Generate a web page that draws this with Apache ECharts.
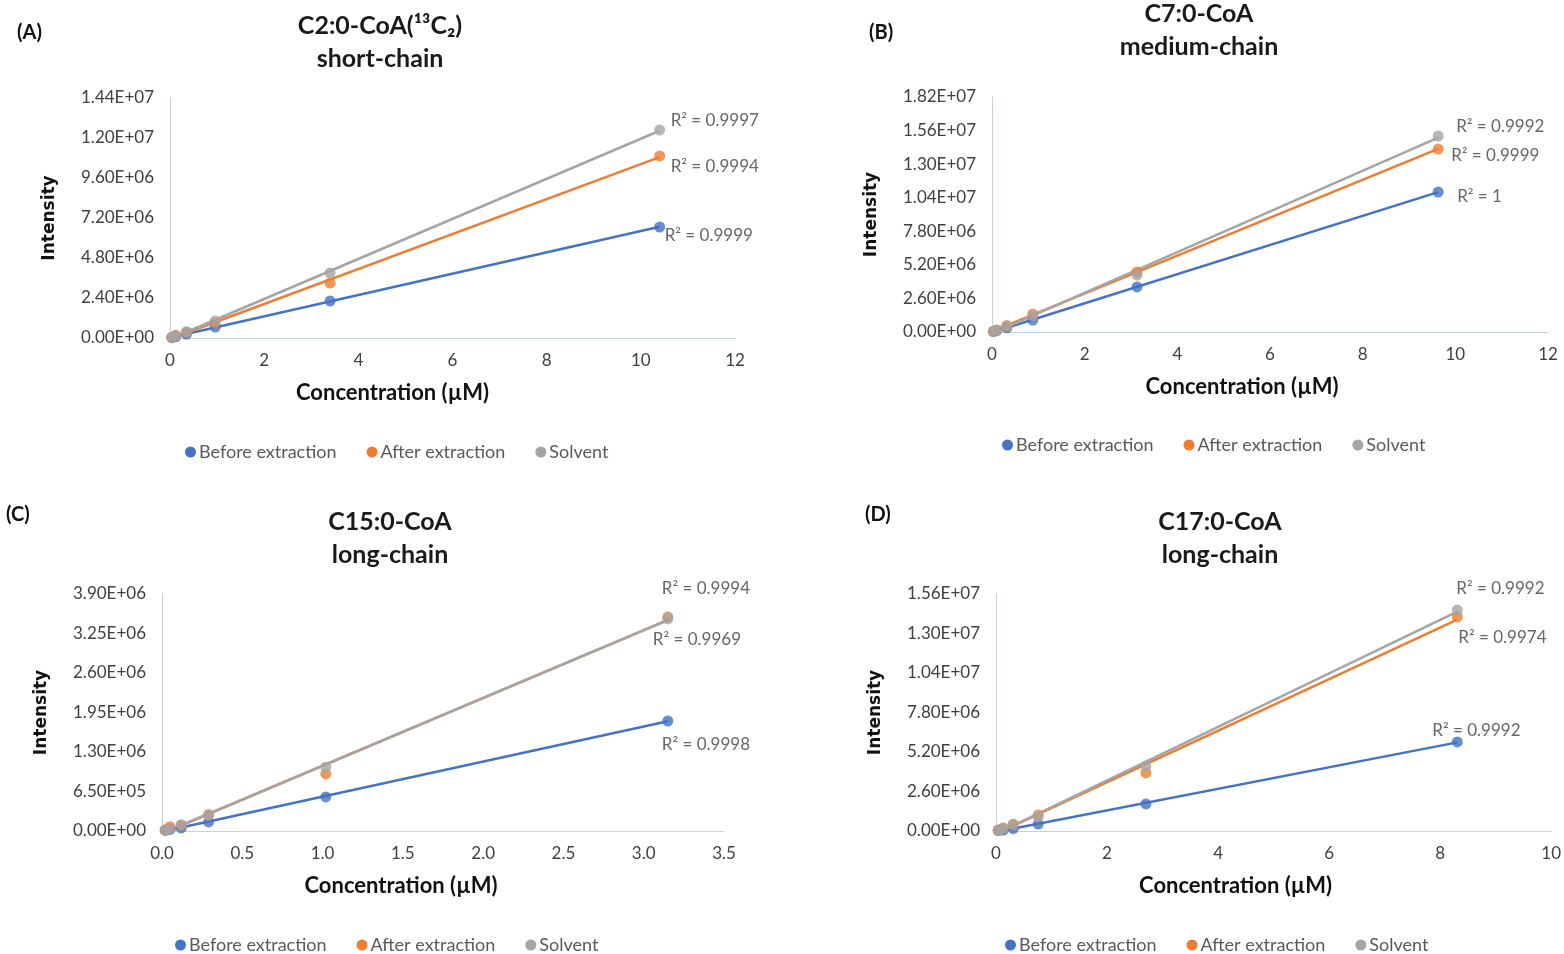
<!DOCTYPE html>
<html>
<head>
<meta charset="utf-8">
<title>Acyl-CoA calibration curves</title>
<script src="https://cdn.jsdelivr.net/npm/echarts@6/dist/echarts.min.js"></script>
<style>
  html, body { margin: 0; padding: 0; background: #fff; }
  #main { width: 1564px; height: 954px; }
</style>
</head>
<body>
<div id="main"></div>
<script>
// concentrations (µM) and intensities
var seriesNames = ['Before extraction', 'After extraction', 'Solvent'];
var colors = ['#4472C4', '#ED7D31', '#A5A5A5'];

var concA = [0.04, 0.12, 0.35, 0.96, 3.4, 10.4];
var beforeA = [2.0e4, 7.0e4, 2.3e5, 6.6e5, 2.22e6, 6.66e6];
var afterA = [4.0e4, 1.6e5, 3.5e5, 9.0e5, 3.30e6, 1.092e7];
var solventA = [5.0e4, 1.4e5, 3.8e5, 1.02e6, 3.90e6, 1.248e7];
var r2A = ['0.9999', '0.9994', '0.9997'];

var concB = [0.03, 0.10, 0.32, 0.88, 3.13, 9.63];
var beforeB = [3.0e4, 1.0e5, 3.2e5, 9.3e5, 3.49e6, 1.084e7];
var afterB = [5.0e4, 1.6e5, 5.0e5, 1.39e6, 4.65e6, 1.417e7];
var solventB = [5.0e4, 1.5e5, 4.6e5, 1.25e6, 4.40e6, 1.518e7];
var r2B = ['1', '0.9999', '0.9992'];

var concC = [0.02, 0.05, 0.12, 0.29, 1.02, 3.15];
var beforeC = [1.0e4, 2.5e4, 5.0e4, 1.5e5, 5.6e5, 1.81e6];
var afterC = [2.0e4, 7.0e4, 1.0e5, 2.7e5, 9.4e5, 3.52e6];
var solventC = [1.5e4, 4.0e4, 1.0e5, 2.6e5, 1.05e6, 3.49e6];
var r2C = ['0.9998', '0.9969', '0.9994'];

var concD = [0.04, 0.13, 0.31, 0.76, 2.70, 8.31];
var beforeD = [3.0e4, 6.0e4, 1.5e5, 4.6e5, 1.78e6, 5.86e6];
var afterD = [6.0e4, 2.0e5, 4.5e5, 1.05e6, 3.82e6, 1.409e7];
var solventD = [5.0e4, 1.8e5, 4.2e5, 9.5e5, 4.28e6, 1.455e7];
var r2D = ['0.9992', '0.9974', '0.9992'];

var panels = [
  { tag: '(A)', title: 'C2:0-CoA(¹³C₂)\nshort-chain', conc: concA, vals: [beforeA, afterA, solventA], r2: r2A,
    xMax: 12, xStep: 2, yMax: 1.44e7, yStep: 2.4e6, xDec: 0,
    grid: { left: 170, top: 98, width: 565, height: 240 }, titleAt: [375, 4], tagAt: [12, 18],
    legendAt: [180, 438], xNamePad: 120,
    labelOffsets: [[5, 9], [11, 11], [11, -9]] },
  { tag: '(B)', title: 'C7:0-CoA\nmedium-chain', conc: concB, vals: [beforeB, afterB, solventB], r2: r2B,
    xMax: 12, xStep: 2, yMax: 1.82e7, yStep: 2.6e6, xDec: 0,
    grid: { left: 992, top: 97, width: 556, height: 235 }, titleAt: [1194, -8], tagAt: [864, 18],
    legendAt: [997, 431], xNamePad: 56,
    labelOffsets: [[19, 4], [13, 6], [18, -9]] },
  { tag: '(C)', title: 'C15:0-CoA\nlong-chain', conc: concC, vals: [beforeC, afterC, solventC], r2: r2C,
    xMax: 3.5, xStep: 0.5, yMax: 3.9e6, yStep: 6.5e5, xDec: 1,
    grid: { left: 162, top: 594, width: 562, height: 237 }, titleAt: [385, 500], tagAt: [1, 500],
    legendAt: [170, 931], xNamePad: 84,
    labelOffsets: [[-6, 24], [-15, 22], [-6, -30]] },
  { tag: '(D)', title: 'C17:0-CoA\nlong-chain', conc: concD, vals: [beforeD, afterD, solventD], r2: r2D,
    xMax: 10, xStep: 2, yMax: 1.56e7, yStep: 2.6e6, xDec: 0,
    grid: { left: 996, top: 594, width: 556, height: 237 }, titleAt: [1215, 500], tagAt: [860, 500],
    legendAt: [1000, 931], xNamePad: 76,
    labelOffsets: [[-25, -11], [1, 21], [-1, -21]] }
];

var textFont = 'Lato, "Open Sans", sans-serif';

function sci(v) {
  if (v === 0) return '0.00E+00';
  var e = Math.floor(Math.log10(Math.abs(v)) + 1e-9);
  var m = v / Math.pow(10, e);
  var s = Math.abs(e) < 10 ? '0' + Math.abs(e) : '' + Math.abs(e);
  return m.toFixed(2) + 'E' + (e < 0 ? '-' : '+') + s;
}

// least-squares trendline across the x range of the data
function trend(xs, ys) {
  var n = xs.length, sx = 0, sy = 0, sxx = 0, sxy = 0;
  for (var i = 0; i < n; i++) {
    sx += xs[i]; sy += ys[i]; sxx += xs[i] * xs[i]; sxy += xs[i] * ys[i];
  }
  var b = (n * sxy - sx * sy) / (n * sxx - sx * sx);
  var a = (sy - b * sx) / n;
  var x0 = Math.min.apply(null, xs), x1 = Math.max.apply(null, xs);
  return [[x0, a + b * x0], [x1, a + b * x1]];
}

var option = {
  backgroundColor: '#fff',
  animation: false,
  title: [], legend: [], grid: [], xAxis: [], yAxis: [], series: []
};

panels.forEach(function (p, gi) {
  option.title.push({
    text: p.title, left: p.titleAt[0], top: p.titleAt[1], textAlign: 'center',
    textStyle: { fontFamily: textFont, fontWeight: 'bold', fontSize: 25, lineHeight: 33, color: '#1a1a1a' }
  });
  option.title.push({
    text: p.tag, left: p.tagAt[0], top: p.tagAt[1],
    textStyle: { fontFamily: textFont, fontWeight: 'bold', fontSize: 20, color: '#111' }
  });
  option.legend.push({
    data: seriesNames, left: p.legendAt[0], top: p.legendAt[1],
    icon: 'circle', itemWidth: 11, itemHeight: 11, itemGap: 30,
    textStyle: { fontFamily: textFont, fontSize: 18, color: '#595959', padding: [0, 0, 0, -2] }
  });
  option.grid.push(Object.assign({ containLabel: false }, p.grid));
  option.xAxis.push({
    gridIndex: gi, type: 'value', min: 0, max: p.xMax, interval: p.xStep,
    name: 'Concentration (µM)', nameLocation: 'middle', nameGap: 44,
    nameTextStyle: { fontFamily: textFont, fontWeight: 'bold', fontSize: 22, color: '#111', padding: [0, p.xNamePad, 0, 0] },
    axisLine: { show: true, lineStyle: { color: '#c9cfdf', width: 1 } },
    axisTick: { show: false }, splitLine: { show: false },
    axisLabel: { fontFamily: textFont, fontSize: 17, color: '#404040', margin: 14,
      formatter: function (v) { return v.toFixed(p.xDec); } }
  });
  option.yAxis.push({
    gridIndex: gi, type: 'value', min: 0, max: p.yMax, interval: p.yStep,
    name: 'Intensity', nameLocation: 'middle', nameGap: 112, nameRotate: 90,
    nameTextStyle: { fontFamily: '"DejaVu Sans", sans-serif', fontWeight: 'bold', fontSize: 17, color: '#111' },
    axisLine: { show: true, lineStyle: { color: '#c9cfdf', width: 1 } },
    axisTick: { show: false }, splitLine: { show: false },
    axisLabel: { fontFamily: textFont, fontSize: 17, color: '#404040', margin: 16, formatter: sci }
  });

  // trendlines under the points
  p.vals.forEach(function (vals, si) {
    option.series.push({
      name: seriesNames[si], type: 'line', xAxisIndex: gi, yAxisIndex: gi,
      data: trend(p.conc, vals), showSymbol: false, symbol: 'none', silent: true,
      lineStyle: { color: colors[si], width: 2.5 }, itemStyle: { color: colors[si] }, z: 2
    });
  });
  p.vals.forEach(function (vals, si) {
    var last = p.conc.length - 1;
    var data = p.conc.map(function (x, k) {
      if (k !== last) return [x, vals[k]];
      return {
        value: [x, vals[k]],
        label: {
          show: true, position: 'inside', align: 'left', verticalAlign: 'middle',
          offset: p.labelOffsets[si], formatter: 'R² = ' + p.r2[si],
          fontFamily: textFont, fontSize: 17, color: '#404040'
        }
      };
    });
    option.series.push({
      name: seriesNames[si], type: 'scatter', xAxisIndex: gi, yAxisIndex: gi,
      data: data, symbol: 'circle', symbolSize: 11,
      itemStyle: { color: colors[si] }, z: 3
    });
  });
});

var chartDom = document.getElementById('main');
var myChart = echarts.init(chartDom);
myChart.setOption(option);
</script>
</body>
</html>
